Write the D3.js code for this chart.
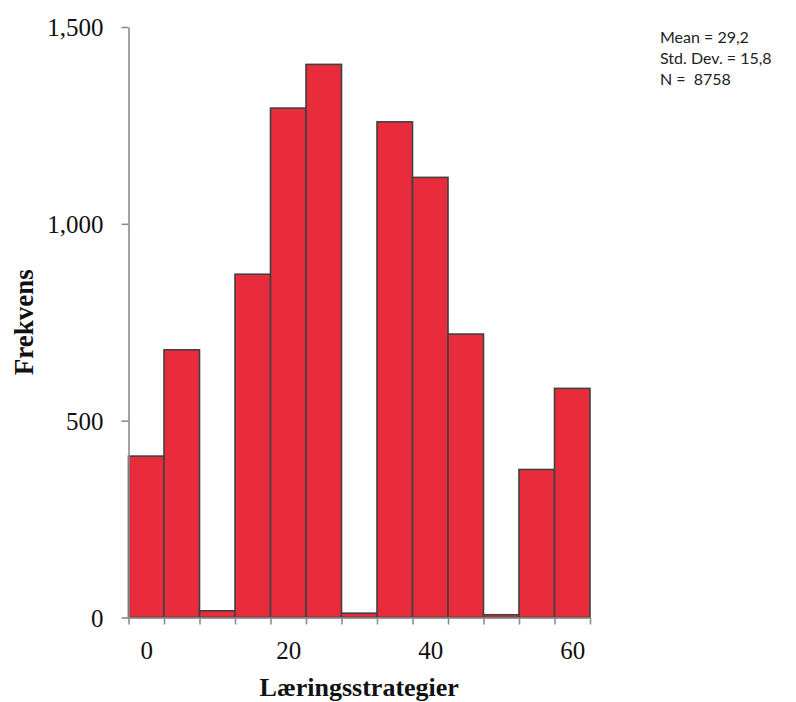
<!DOCTYPE html>
<html>
<head>
<meta charset="utf-8">
<script src="https://cdn.jsdelivr.net/npm/d3@7"></script>
<style>
  html, body { margin: 0; padding: 0; background: #fff; }
  svg { display: block; }
</style>
</head>
<body>
<script>
// ---- data ----
const binCenters = [0, 5, 10, 15, 20, 25, 30, 35, 40, 45, 50, 55, 60];
const frequencies = [410, 680, 17, 872, 1294, 1405, 11, 1259, 1118, 720, 7, 376, 582];
const binWidth = 5;
const binEdges = [-2.5, 2.5, 7.5, 12.5, 17.5, 22.5, 27.5, 32.5, 37.5, 42.5, 47.5, 52.5, 57.5, 62.5];
const xTickLabels = [0, 20, 40, 60];
const yTickValues = [0, 500, 1000, 1500];
const statLines = ["Mean = 29,2", "Std. Dev. = 15,8", "N =  8758"];
const xTitle = "Læringsstrategier";
const yTitle = "Frekvens";

// ---- layout ----
const W = 796, H = 702;
const svg = d3.select("body").append("svg").attr("width", W).attr("height", H);

const x = d3.scaleLinear().domain([-2.5, 62.5]).range([128.5, 590]);
const y = d3.scaleLinear().domain([0, 1500]).range([617.5, 27]);

const axisColor = "#8c8c8c";
const serif = "'Liberation Serif', 'Times New Roman', serif";

// bars
svg.append("g").selectAll("rect")
  .data(binCenters.map((c, i) => ({ c, v: frequencies[i] })))
  .join("rect")
  .attr("x", d => x(d.c - binWidth / 2))
  .attr("width", d => x(d.c + binWidth / 2) - x(d.c - binWidth / 2))
  .attr("y", d => y(d.v))
  .attr("height", d => y(0) - y(d.v))
  .attr("fill", "#E92C3C")
  .attr("stroke", "#404040")
  .attr("stroke-width", 1.6);

// y axis
const yAxis = svg.append("g").attr("transform", `translate(${x(-2.5)},0)`)
  .call(d3.axisLeft(y).tickValues(yTickValues).tickFormat(d3.format(",")).tickSize(7).tickPadding(18).tickSizeOuter(0));
yAxis.select(".domain").attr("stroke", axisColor).attr("stroke-width", 1.6);
yAxis.selectAll(".tick line").attr("stroke", axisColor).attr("stroke-width", 1.6);
yAxis.selectAll(".tick text")
  .attr("font-family", serif).attr("font-size", 25).attr("fill", "#111")
  .attr("dy", "0.34em");

// x axis (ticks at bin edges)
const xAxis = svg.append("g").attr("transform", `translate(0,${y(0)})`)
  .call(d3.axisBottom(x).tickValues(binEdges).tickFormat("").tickSize(7).tickSizeOuter(0));
xAxis.select(".domain").attr("stroke", axisColor).attr("stroke-width", 1.6);
xAxis.selectAll(".tick line").attr("stroke", axisColor).attr("stroke-width", 1.6);

// x tick labels
const xLab = svg.append("g").attr("transform", `translate(0,${y(0)})`)
  .call(d3.axisBottom(x).tickValues(xTickLabels).tickSize(0).tickPadding(0));
xLab.select(".domain").remove();
xLab.selectAll(".tick text")
  .attr("font-family", serif).attr("font-size", 25).attr("fill", "#111")
  .attr("y", 41).attr("dy", 0);

// axis titles
svg.append("text")
  .attr("x", (x(-2.5) + x(62.5)) / 2).attr("y", 696)
  .attr("text-anchor", "middle")
  .attr("font-family", serif).attr("font-weight", "bold").attr("font-size", 26)
  .attr("fill", "#111")
  .text(xTitle);

svg.append("text")
  .attr("transform", `translate(33,${(y(0) + y(1500)) / 2}) rotate(-90)`)
  .attr("text-anchor", "middle")
  .attr("font-family", serif).attr("font-weight", "bold").attr("font-size", 27)
  .attr("fill", "#111")
  .text(yTitle);

// stats box
svg.append("g").selectAll("text")
  .data(statLines)
  .join("text")
  .attr("x", 660)
  .attr("y", (d, i) => 43 + i * 21)
  .attr("font-family", "Lato, 'Open Sans', sans-serif")
  .attr("font-size", 16)
  .attr("fill", "#222")
  .style("white-space", "pre")
  .attr("xml:space", "preserve")
  .text(d => d);
</script>
</body>
</html>
